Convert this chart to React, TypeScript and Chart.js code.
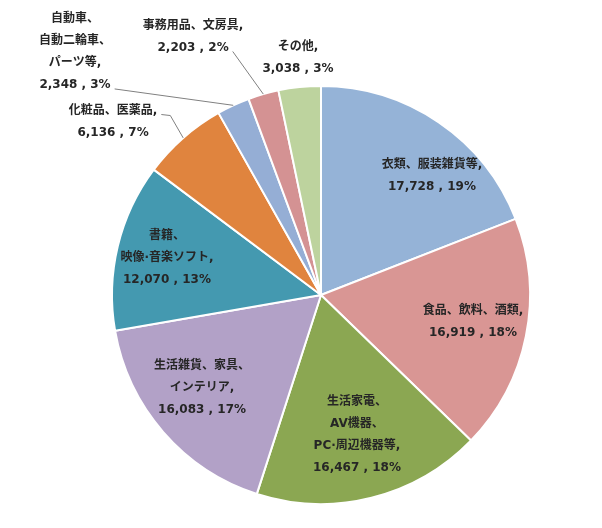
import React, { useEffect, useRef } from "react";
import { Chart, registerables } from "chart.js";

Chart.register(...registerables);

const CATEGORIES: string[][] = [
  ["衣類、服装雑貨等"],
  ["食品、飲料、酒類"],
  ["生活家電、", "AV機器、", "PC·周辺機器等"],
  ["生活雑貨、家具、", "インテリア"],
  ["書籍、", "映像·音楽ソフト"],
  ["化粧品、医薬品"],
  ["自動車、", "自動二輪車、", "パーツ等"],
  ["事務用品、文房具"],
  ["その他"],
];
const VALUES: number[] = [17728, 16919, 16467, 16083, 12070, 6136, 2348, 2203, 3038];
const COLORS: string[] = [
  "#95B3D7",
  "#D99694",
  "#8BA752",
  "#B2A1C7",
  "#4499B0",
  "#E0843E",
  "#95AED5",
  "#D49293",
  "#BDD39E",
];

// label block centre as fraction of radius from pie centre
const LABEL_POS: [number, number][] = [
  [0.531, -0.569],
  [0.727, 0.129],
  [0.172, 0.668],
  [-0.569, 0.445],
  [-0.737, -0.177],
  [-0.995, -0.83],
  [-1.177, -1.163],
  [-0.612, -1.237],
  [-0.11, -1.136],
];
// leader lines: [line index to start from, horizontal elbow length] or null
const LEADERS: ([number, number] | null)[] = [null, null, null, null, null, [0, 9], [3, 0], [1, 0], null];

const LINE_H = 22;
const FONT = "bold 12px 'DejaVu Sans', 'Noto Sans CJK JP', sans-serif";

function labelLines(i: number, total: number): string[] {
  const name = CATEGORIES[i].slice();
  name[name.length - 1] = name[name.length - 1] + ",";
  const pct = Math.round((VALUES[i] / total) * 100);
  return [...name, `${VALUES[i].toLocaleString("en-US")} , ${pct}%`];
}

const labelPlugin = {
  id: "pieLabels",
  afterDatasetsDraw(chart: any) {
    const ctx = chart.ctx as CanvasRenderingContext2D;
    const meta = chart.getDatasetMeta(0);
    const total = VALUES.reduce((a, b) => a + b, 0);
    ctx.save();
    ctx.font = FONT;
    ctx.fillStyle = "#262626";
    ctx.textAlign = "center";
    ctx.textBaseline = "middle";
    meta.data.forEach((arc: any, i: number) => {
      const R = arc.outerRadius;
      const cx = arc.x + LABEL_POS[i][0] * R;
      const cy = arc.y + LABEL_POS[i][1] * R;
      const lines = labelLines(i, total);
      const y0 = cy - ((lines.length - 1) * LINE_H) / 2;
      lines.forEach((t, k) => ctx.fillText(t, cx, y0 + k * LINE_H));
      const ld = LEADERS[i];
      if (ld) {
        const [li, elbow] = ld;
        const w = ctx.measureText(lines[li]).width;
        const sx = cx + w / 2 + 4;
        const sy = y0 + li * LINE_H + 4;
        const a = (arc.startAngle + arc.endAngle) / 2;
        const ex = arc.x + Math.cos(a) * R;
        const ey = arc.y + Math.sin(a) * R;
        ctx.beginPath();
        ctx.strokeStyle = "#808080";
        ctx.lineWidth = 1;
        ctx.moveTo(sx, sy);
        if (elbow) ctx.lineTo(sx + elbow, sy + 1);
        ctx.lineTo(ex, ey);
        ctx.stroke();
      }
    });
    ctx.restore();
  },
};

export default function App() {
  const ref = useRef<HTMLCanvasElement>(null);
  useEffect(() => {
    if (!ref.current) return;
    const chart = new Chart(ref.current, {
      type: "pie",
      data: {
        labels: CATEGORIES.map((c) => c.join("")),
        datasets: [
          {
            data: VALUES,
            backgroundColor: COLORS,
            borderColor: "#FFFFFF",
            borderWidth: 2,
          },
        ],
      },
      options: {
        responsive: false,
        animation: false,
        layout: { padding: { left: 111, right: 71, top: 85, bottom: 23 } },
        plugins: {
          legend: { display: false },
          tooltip: { enabled: false },
        },
      },
      plugins: [labelPlugin],
    });
    return () => chart.destroy();
  }, []);
  return (
    <div style={{ position: "absolute", left: 0, top: 0, width: 602, height: 528, background: "#fff" }}>
      <canvas ref={ref} width={602} height={528} style={{ width: 602, height: 528 }} />
    </div>
  );
}
